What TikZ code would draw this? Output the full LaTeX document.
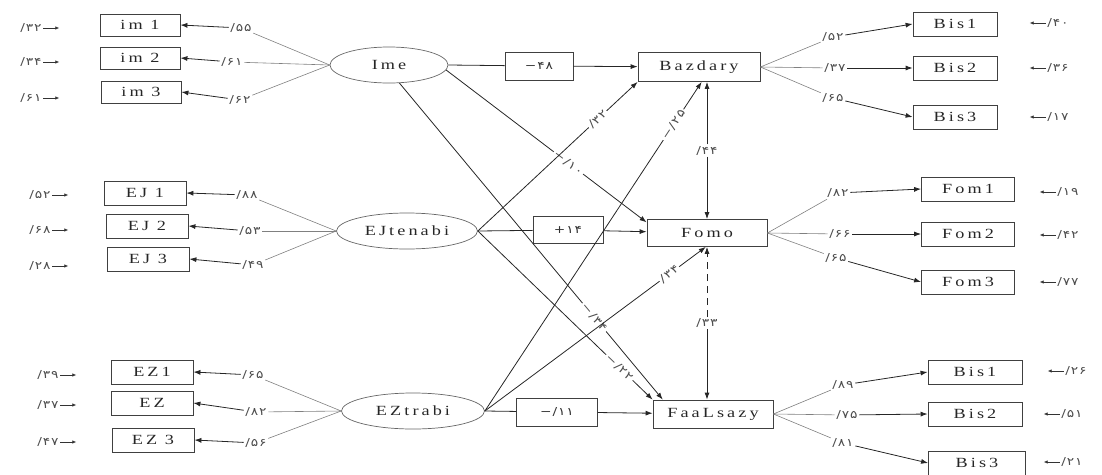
\documentclass[tikz,border=0pt]{standalone}
\usepackage{fontspec}
\setmainfont{Liberation Serif}
\newfontfamily\lettres[FakeStretch=1.3,LetterSpace=22]{Liberation Serif}
\newfontfamily\chiffres[FakeStretch=1.25,LetterSpace=8]{DejaVu Sans}
\usetikzlibrary{calc}
\usetikzlibrary{arrows.meta}
\usetikzlibrary{shapes.geometric}
\tikzset{ %Styles du modele
    indic/.style={draw=black!75,line width=0.8pt,minimum width=82pt,minimum height=24pt,inner sep=0pt,
        text=black!85,font=\lettres\fontsize{14}{14}\selectfont},
    latent/.style={ellipse,draw=black!60,line width=0.7pt,minimum height=36pt,inner sep=0pt,
        text=black!85,font=\lettres\fontsize{14}{14}\selectfont},
    coef/.style={draw=black!75,line width=0.8pt,minimum width=70pt,minimum height=27pt,inner sep=0pt,
        text=black!80,font=\chiffres\fontsize{11}{11}\selectfont},
    val/.style={inner sep=1.5pt,text=black!70,font=\chiffres\fontsize{11}{11}\selectfont},
    fleche/.style={draw=black!85,line width=0.8pt,-{Latex[length=7pt,width=5pt]}},
    erreur/.style={draw=black!80,line width=0.7pt,-{Latex[length=4pt,width=3.5pt]}},
    charge/.style={draw=black!50,line width=0.6pt}
}
\begin{document}
\begin{tikzpicture}[x=1pt,y=-1pt]
\useasboundingbox (0,0) rectangle (1102,474);
% variables latentes et dependantes
\node[latent,minimum width=118pt] (Ime) at (389,65) {Ime};
\node[latent,minimum width=141pt] (EJ) at (407,231) {EJtenabi};
\node[latent,minimum width=143pt] (EZ) at (413,411) {EZtrabi};
\node[indic,minimum width=122pt,minimum height=29pt] (Baz) at (699,67) {Bazdary};
\node[indic,minimum width=120pt,minimum height=27pt] (Fomo) at (707,233) {Fomo};
\node[indic,minimum width=120pt,minimum height=28pt] (Faal) at (713,414) {FaaLsazy};
% indicateurs de Ime
\node[indic,minimum width=80pt,minimum height=22pt] (im1) at (140,25) {im 1};
\node[indic,minimum width=80pt,minimum height=22pt] (im2) at (140,58) {im 2};
\node[indic,minimum width=80pt,minimum height=22pt] (im3) at (141,92) {im 3};
\node[val] (lim1) at (241,28) {/۵۵};
\node[val] (lim2) at (232,62) {/۶۱};
\node[val] (lim3) at (240,100) {/۶۲};
\node[val] (eim1) at (31,28) {/۳۲};
\node[val] (eim2) at (31,62) {/۳۴};
\node[val] (eim3) at (31,98) {/۶۱};
\draw[charge] (Ime.west) -- (lim1);
\draw[charge] (Ime.west) -- (lim2);
\draw[charge] (Ime.west) -- (lim3);
\draw[fleche] (lim1) -- (im1.east);
\draw[fleche] (lim2) -- (im2.east);
\draw[fleche] (lim3) -- (im3.east);
\draw[erreur] (eim1.east) -- +(16,0);
\draw[erreur] (eim2.east) -- +(16,0);
\draw[erreur] (eim3.east) -- +(16,0);
% indicateurs de EJtenabi
\node[indic] (ej1) at (145,193) {EJ 1};
\node[indic] (ej2) at (147,226) {EJ 2};
\node[indic] (ej3) at (148,259) {EJ 3};
\node[val] (lej1) at (247,195) {/۸۸};
\node[val] (lej2) at (250,231) {/۵۳};
\node[val] (lej3) at (253,265) {/۴۹};
\node[val] (eej1) at (40,195) {/۵۲};
\node[val] (eej2) at (40,230) {/۶۸};
\node[val] (eej3) at (40,266) {/۲۸};
\draw[charge] (EJ.west) -- (lej1);
\draw[charge] (EJ.west) -- (lej2);
\draw[charge] (EJ.west) -- (lej3);
\draw[fleche] (lej1) -- (ej1.east);
\draw[fleche] (lej2) -- (ej2.east);
\draw[fleche] (lej3) -- (ej3.east);
\draw[erreur] (eej1.east) -- +(16,0);
\draw[erreur] (eej2.east) -- +(16,0);
\draw[erreur] (eej3.east) -- +(16,0);
% indicateurs de EZtrabi
\node[indic] (ez1) at (152,372) {EZ1};
\node[indic] (ez2) at (152,403) {EZ};
\node[indic] (ez3) at (153,440) {EZ 3};
\node[val] (lez1) at (253,375) {/۶۵};
\node[val] (lez2) at (256,412) {/۸۲};
\node[val] (lez3) at (256,443) {/۵۶};
\node[val] (eez1) at (48,375) {/۳۹};
\node[val] (eez2) at (48,405) {/۳۷};
\node[val] (eez3) at (48,442) {/۴۷};
\draw[charge] (EZ.west) -- (lez1);
\draw[charge] (EZ.west) -- (lez2);
\draw[charge] (EZ.west) -- (lez3);
\draw[fleche] (lez1) -- (ez1.east);
\draw[fleche] (lez2) -- (ez2.east);
\draw[fleche] (lez3) -- (ez3.east);
\draw[erreur] (eez1.east) -- +(16,0);
\draw[erreur] (eez2.east) -- +(16,0);
\draw[erreur] (eez3.east) -- +(16,0);
% chemins directs
\node[coef,minimum width=68pt,minimum height=28pt] (c48) at (539,66) {−۴۸};
\node[coef] (c14) at (568,230) {+۱۴};
\node[coef,minimum width=81pt,minimum height=28pt] (c11) at (557,412) {−/۱۱};
\draw[fleche,-] (Ime.east) -- (c48);
\draw[fleche] (c48) -- (Baz);
\draw[fleche,-] (EJ.east) -- (c14);
\draw[fleche] (c14) -- (Fomo);
\draw[fleche,-] (EZ.east) -- (c11);
\draw[fleche] (c11) -- (Faal);
% chemins croises
\draw[fleche] (Ime.-5) -- node[val,sloped,fill=white,pos=0.61] {−/۱۰} (Fomo.170);
\draw[fleche] (Ime.-60) -- node[val,sloped,fill=white,pos=0.74] {−/۳۴} (Faal.164);
\draw[fleche] (EJ.east) -- node[val,sloped,fill=white,pos=0.81] {−/۲۲} (Faal.north west);
\draw[fleche] (EJ.east) -- node[val,sloped,fill=white,pos=0.75] {/۳۲} (Baz.south west);
\draw[fleche] (EZ.east) -- node[val,sloped,fill=white,pos=0.87] {−/۲۵} (Baz.-80);
\draw[fleche] (EZ.east) -- node[val,sloped,fill=white,pos=0.835] {/۳۴} (Fomo.-95);
% correlations
\node[val] (r44) at ($(Fomo.north |- Baz.south)!0.5!(Fomo.north)$) {/۴۴};
\node[val] (r33) at ($(Fomo.south)!0.5!(Fomo.south |- Faal.north)$) {/۳۳};
\draw[fleche] (r44) -- (Fomo.north |- Baz.south);
\draw[fleche] (r44) -- (Fomo.north);
\draw[fleche,dash pattern=on 7pt off 5pt] (r33) -- (Fomo.south);
\draw[fleche] (r33) -- (Fomo.south |- Faal.north);
% indicateurs de Bazdary
\node[indic,minimum width=84pt] (bis1) at (955,24) {Bis1};
\node[indic,minimum width=84pt] (bis2) at (955,68) {Bis2};
\node[indic,minimum width=84pt] (bis3) at (955,117) {Bis3};
\node[val] (lbis1) at (833,37) {/۵۲};
\node[val] (lbis2) at (835,68) {/۳۷};
\node[val] (lbis3) at (833,98) {/۶۵};
\node[val] (ebis1) at (1058,23) {/۴۰};
\node[val] (ebis2) at (1058,68) {/۳۶};
\node[val] (ebis3) at (1058,117) {/۱۷};
\draw[charge] (Baz.east) -- (lbis1);
\draw[charge] (Baz.east) -- (lbis2);
\draw[charge] (Baz.east) -- (lbis3);
\draw[fleche] (lbis1) -- (bis1.west);
\draw[fleche] (lbis2) -- (bis2.west);
\draw[fleche] (lbis3) -- (bis3.west);
\draw[erreur] (ebis1.west) -- +(-16,0);
\draw[erreur] (ebis2.west) -- +(-16,0);
\draw[erreur] (ebis3.west) -- +(-16,0);
% indicateurs de Fomo
\node[indic,minimum width=93pt] (fom1) at (968,189) {Fom1};
\node[indic,minimum width=93pt] (fom2) at (968,234) {Fom2};
\node[indic,minimum width=93pt] (fom3) at (968,282) {Fom3};
\node[val] (lfom1) at (838,193) {/۸۲};
\node[val] (lfom2) at (840,234) {/۶۶};
\node[val] (lfom3) at (836,258) {/۶۵};
\node[val] (efom1) at (1068,192) {/۱۹};
\node[val] (efom2) at (1068,235) {/۴۲};
\node[val] (efom3) at (1068,282) {/۷۷};
\draw[charge] (Fomo.east) -- (lfom1);
\draw[charge] (Fomo.east) -- (lfom2);
\draw[charge] (Fomo.east) -- (lfom3);
\draw[fleche] (lfom1) -- (fom1.west);
\draw[fleche] (lfom2) -- (fom2.west);
\draw[fleche] (lfom3) -- (fom3.west);
\draw[erreur] (efom1.west) -- +(-16,0);
\draw[erreur] (efom2.west) -- +(-16,0);
\draw[erreur] (efom3.west) -- +(-16,0);
% indicateurs de FaaLsazy
\node[indic,minimum width=94pt] (fb1) at (975,372) {Bis1};
\node[indic,minimum width=94pt] (fb2) at (975,414) {Bis2};
\node[indic,minimum width=97pt] (fb3) at (977,463) {Bis3};
\node[val] (lfb1) at (843,385) {/۸۹};
\node[val] (lfb2) at (847,415) {/۷۵};
\node[val] (lfb3) at (843,443) {/۸۱};
\node[val] (efb1) at (1076,371) {/۲۶};
\node[val] (efb2) at (1072,414) {/۵۱};
\node[val] (efb3) at (1072,462) {/۲۱};
\draw[charge] (Faal.east) -- (lfb1);
\draw[charge] (Faal.east) -- (lfb2);
\draw[charge] (Faal.east) -- (lfb3);
\draw[fleche] (lfb1) -- (fb1.west);
\draw[fleche] (lfb2) -- (fb2.west);
\draw[fleche] (lfb3) -- (fb3.west);
\draw[erreur] (efb1.west) -- +(-16,0);
\draw[erreur] (efb2.west) -- +(-16,0);
\draw[erreur] (efb3.west) -- +(-16,0);
\end{tikzpicture}
\end{document}
